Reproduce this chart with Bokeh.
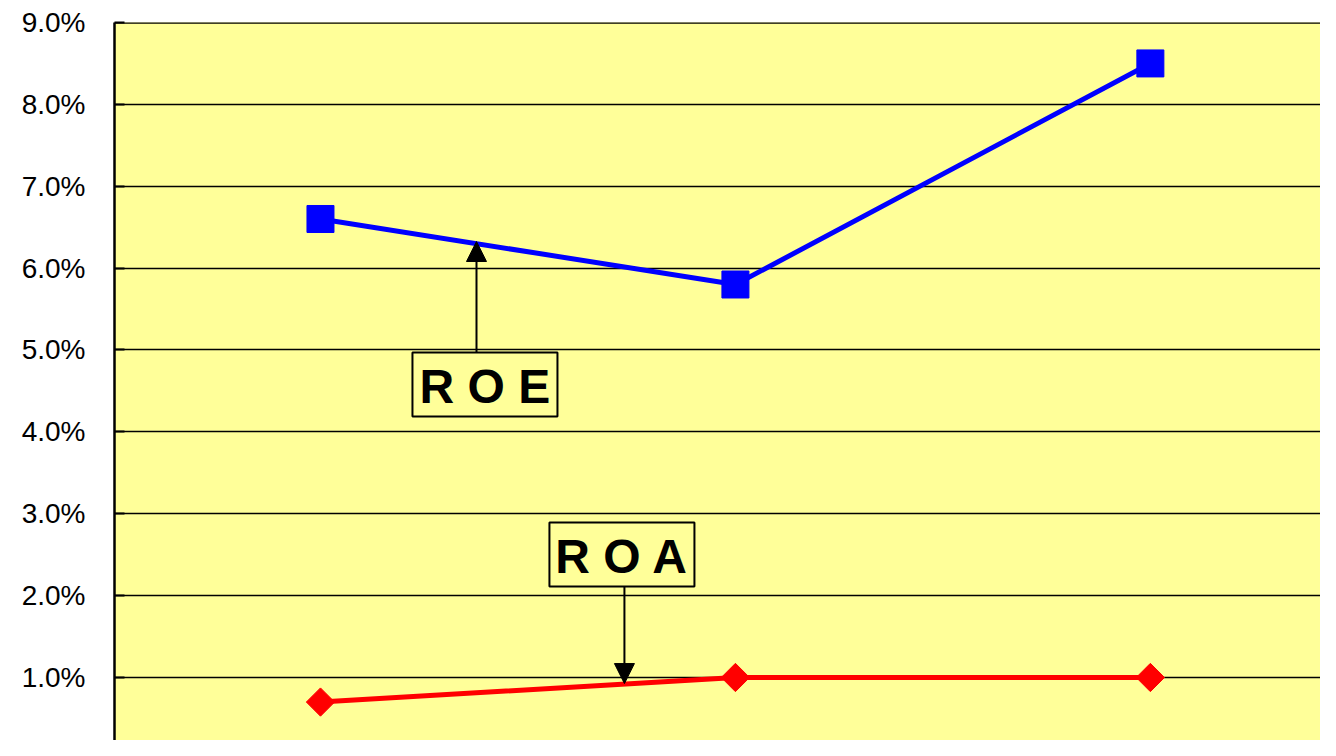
import math
from bokeh.plotting import figure
from bokeh.models import (Range1d, FixedTicker, Arrow, NormalHead, Span,
                          ColumnDataSource)
from bokeh.core.properties import value
from bokeh.embed import file_html
from bokeh.resources import INLINE

# ---- data ----
periods = [1, 2, 3]
roe = [6.6, 5.8, 8.5]
roa = [0.7, 1.0, 1.0]
y_ticks = [0, 1, 2, 3, 4, 5, 6, 7, 8, 9]
y_tick_labels = ["0.0%", "1.0%", "2.0%", "3.0%", "4.0%",
                 "5.0%", "6.0%", "7.0%", "8.0%", "9.0%"]
callout_texts = ["R O E", "R O A"]

# category centres
xs = [p - 0.5 for p in periods]

BG = "#FFFF99"

p = figure(width=1320, height=740, output_backend="svg", toolbar_location=None,
           x_range=Range1d(0.0036, 2.910), y_range=Range1d(0.2305, 9.0),
           x_axis_location=None, min_border_left=114, min_border_top=22,
           min_border_right=0, min_border_bottom=0,
           background_fill_color=BG, border_fill_color="white",
           outline_line_color=None)

# y axis
p.yaxis.ticker = FixedTicker(ticks=y_ticks)
p.yaxis.major_label_overrides = {t: l for t, l in zip(y_ticks, y_tick_labels)}
p.yaxis.axis_line_color = "black"
p.yaxis.axis_line_width = 2.5
p.yaxis.major_tick_in = 10
p.yaxis.major_tick_out = 0
p.yaxis.major_tick_line_width = 2
p.yaxis.major_tick_line_color = "black"
p.yaxis.minor_tick_line_color = None
p.yaxis.major_label_standoff = 29
p.yaxis.major_label_text_font = "Liberation Sans"
p.yaxis.major_label_text_font_size = "28px"
p.yaxis.major_label_text_color = "black"

p.xgrid.grid_line_color = None
p.ygrid.ticker = FixedTicker(ticks=y_ticks)
p.ygrid.grid_line_color = "black"
p.ygrid.grid_line_width = 1.5

# top border
p.add_layout(Span(location=9.0, dimension="width", line_color="black", line_width=2.5))

# series
src_roe = ColumnDataSource(dict(x=xs, y=roe))
src_roa = ColumnDataSource(dict(x=xs, y=roa))
p.line("x", "y", source=src_roe, line_color="#0000FF", line_width=5)
p.scatter("x", "y", source=src_roe, marker="square", size=27,
          fill_color="#0000FF", line_color="#0000FF")
p.line("x", "y", source=src_roa, line_color="#FF0000", line_width=5)
p.scatter("x", "y", source=src_roa, marker="square", size=20, angle=math.pi / 4,
          fill_color="#FF0000", line_color="#FF0000")

# callouts: (box centre x, box centre y, arrow x, arrow start y, arrow tip y)
callouts = [
    (0.8964, 4.579, 0.876, 4.969, 6.325),
    (1.2265, 2.502, 1.2325, 2.112, 0.926),
]
for (bx, by, ax, ay0, ay1), txt in zip(callouts, callout_texts):
    p.add_layout(Arrow(x_start=ax, y_start=ay0, x_end=ax, y_end=ay1,
                       line_color="black", line_width=2,
                       end=NormalHead(size=20, fill_color="black",
                                      line_color="black", line_width=1)))
    p.rect(x=[bx], y=[by], width=145, height=64, width_units="screen",
           height_units="screen", fill_color=BG, line_color="black",
           line_width=2)
    p.text(x=[bx], y=[by], text=[txt], text_align="center",
           text_baseline="middle", text_font=value("Liberation Sans"),
           text_font_style="bold", text_font_size="48px", text_color="black",
           y_offset=2)

open("out.html", "w").write(file_html(p, INLINE))
